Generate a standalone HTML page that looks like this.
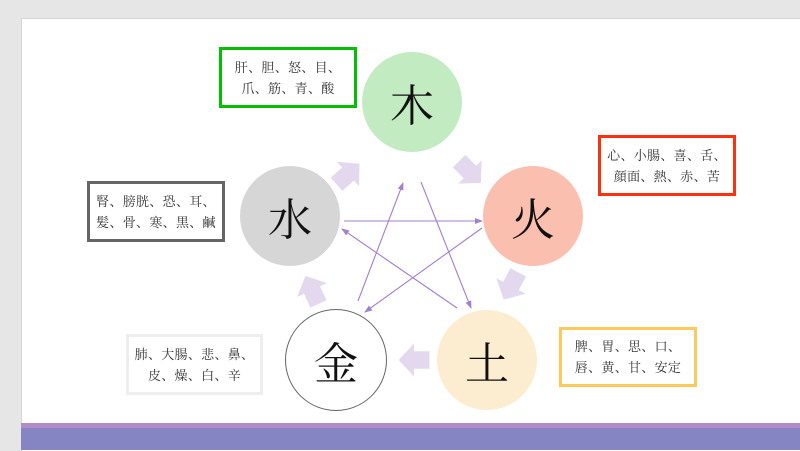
<!DOCTYPE html>
<html><head><meta charset="utf-8"><style>
body{margin:0;width:800px;height:450px;background:#e6e6e6;overflow:hidden;position:relative;font-family:"Liberation Serif","Noto Serif CJK SC",serif}
.slide{position:absolute;left:21px;top:18px;width:779px;height:432px;background:#fff;border-left:1px solid #d6d6d6;border-top:1px solid #d6d6d6}
.box{position:absolute;box-sizing:border-box;background:#fff;display:flex;align-items:center;justify-content:center;text-align:center;font-size:13px;line-height:21px;color:#333;letter-spacing:0.3px}
.c{position:absolute;border-radius:50%;display:flex;align-items:center;justify-content:center;font-size:44px;color:#111;box-sizing:border-box}
</style></head><body>
<div class="slide"></div>
<div style="position:absolute;left:21px;top:423px;width:779px;height:5px;background:#b38bc6"></div>
<div style="position:absolute;left:21px;top:428px;width:779px;height:22px;background:#8585c4"></div>

<svg style="position:absolute;left:0;top:0" width="800" height="450">
<defs><marker id="a" markerWidth="8" markerHeight="8" refX="7" refY="4" orient="auto" markerUnits="userSpaceOnUse"><path d="M0,1 L8,4 L0,7 z" fill="#a47fcb"/></marker></defs>
<g stroke="#a47fcb" stroke-width="1.1" fill="none" marker-end="url(#a)">
<line x1="344" y1="221" x2="482" y2="221"/>
<line x1="482" y1="228" x2="365" y2="312"/>
<line x1="358" y1="301" x2="403" y2="183"/>
<line x1="421" y1="182" x2="471" y2="308"/>
<line x1="457" y1="308" x2="342" y2="229"/>
</g>
<g fill="#e3d8ee">
<polygon transform="translate(348,174) rotate(-42) scale(1.1)" points="-14,-8 0,-8 0,-15 14,0 0,15 0,8 -14,8"/>
<polygon transform="translate(470,172) rotate(45) scale(1.1)" points="-14,-8 0,-8 0,-15 14,0 0,15 0,8 -14,8"/>
<polygon transform="translate(511,286) rotate(118) scale(1.1)" points="-14,-8 0,-8 0,-15 14,0 0,15 0,8 -14,8"/>
<polygon transform="translate(414,360) rotate(180) scale(1.1)" points="-14,-8 0,-8 0,-15 14,0 0,15 0,8 -14,8"/>
<polygon transform="translate(312,290) rotate(-115) scale(1.1)" points="-14,-8 0,-8 0,-15 14,0 0,15 0,8 -14,8"/>
</g>
</svg>

<div class="c" style="left:362px;top:52px;width:100px;height:100px;background:#c2ebc2">木</div>
<div class="c" style="left:483px;top:166px;width:100px;height:100px;background:#fbbfb0">火</div>
<div class="c" style="left:240px;top:166px;width:100px;height:100px;background:#d6d6d6">水</div>
<div class="c" style="left:285px;top:309px;width:102px;height:102px;background:#fff;border:1.3px solid #666">金</div>
<div class="c" style="left:437px;top:310px;width:100px;height:100px;background:#fcecd0">土</div>

<div class="box" style="left:219px;top:47px;width:138px;height:61px;border:3px solid #00c000">肝、胆、怒、目、<br>爪、筋、青、酸</div>
<div class="box" style="left:598px;top:135px;width:138px;height:61px;border:3px solid #ff3010">心、小腸、喜、舌、<br>顔面、熱、赤、苦</div>
<div class="box" style="left:87px;top:181px;width:138px;height:61px;border:3px solid #666">腎、膀胱、恐、耳、<br>髪、骨、寒、黒、鹹</div>
<div class="box" style="left:126px;top:334px;width:137px;height:61px;border:3px solid #eeeeee">肺、大腸、悲、鼻、<br>皮、燥、白、辛</div>
<div class="box" style="left:559px;top:327px;width:138px;height:60px;border:3px solid #ffc85a">脾、胃、思、口、<br>唇、黄、甘、安定</div>
</body></html>
